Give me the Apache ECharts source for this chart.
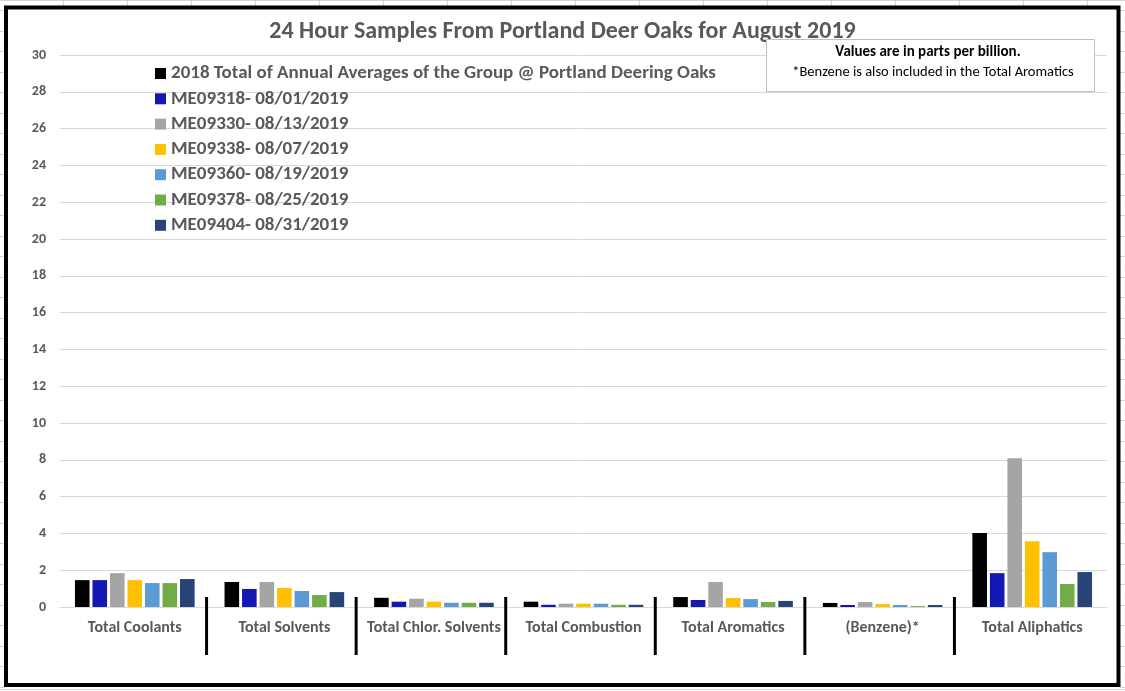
<!DOCTYPE html>
<html>
<head>
<meta charset="utf-8">
<script src="https://cdn.jsdelivr.net/npm/echarts@6/dist/echarts.min.js"></script>
<style>
html,body{margin:0;padding:0;background:#fff;}
#chart{width:1125px;height:691px;}
</style>
</head>
<body>
<div id="chart"></div>
<script>
const categories = ['Total Coolants','Total Solvents','Total Chlor. Solvents','Total Combustion','Total Aromatics','(Benzene)*','Total Aliphatics'];
const seriesNames = ['2018 Total of Annual Averages of the Group @ Portland Deering Oaks','ME09318- 08/01/2019','ME09330- 08/13/2019','ME09338- 08/07/2019','ME09360- 08/19/2019','ME09378- 08/25/2019','ME09404- 08/31/2019'];
const avg2018 = [1.46,1.36,0.50,0.29,0.54,0.22,4.02];
const me09318 = [1.46,0.98,0.29,0.12,0.38,0.11,1.84];
const me09330 = [1.84,1.36,0.45,0.18,1.36,0.27,8.08];
const me09338 = [1.46,1.03,0.29,0.18,0.49,0.16,3.58];
const me09360 = [1.30,0.87,0.23,0.18,0.43,0.11,2.98];
const me09378 = [1.30,0.65,0.23,0.12,0.27,0.05,1.25];
const me09404 = [1.52,0.81,0.23,0.12,0.33,0.11,1.90];
const yTicks = [0,2,4,6,8,10,12,14,16,18,20,22,24,26,28,30];

const colors = ['#000000','#1219B3','#A5A5A5','#FFC000','#5B9BD5','#70AD47','#264478'];
const values = [avg2018,me09318,me09330,me09338,me09360,me09378,me09404];
const FONT = 'Carlito, "Liberation Sans", Arial, sans-serif';

const chart = echarts.init(document.getElementById('chart'));

const option = {
  animation: false,
  backgroundColor: '#ffffff',
  color: colors,
  title: {
    text: '24 Hour Samples From Portland Deer Oaks for August 2019',
    left: 'center', top: 15,
    textStyle: {fontFamily: FONT, fontSize: 24, fontWeight: 'bold', color: '#595959'}
  },
  legend: {
    orient: 'vertical', left: 150, top: 59,
    itemWidth: 11, itemHeight: 11, itemGap: 6.3,
    icon: 'rect',
    data: seriesNames,
    textStyle: {fontFamily: FONT, fontSize: 19, fontWeight: 'bold', color: '#595959', lineHeight: 19}
  },
  grid: {left: 60, right: 18, top: 55, bottom: 84, containLabel: false},
  xAxis: {
    type: 'category', data: categories, boundaryGap: true,
    axisLine: {lineStyle: {color: '#D9D9D9', width: 1}},
    axisTick: {inside: true, length: 5, lineStyle: {color: '#D9D9D9'}},
    axisLabel: {margin: 13, fontFamily: FONT, fontSize: 16, fontWeight: 'bold', color: '#595959', interval: 0}
  },
  yAxis: {
    type: 'value', min: 0, max: 30, interval: 2,
    axisLine: {show: false}, axisTick: {show: false},
    splitLine: {lineStyle: {color: '#D9D9D9', width: 1}},
    axisLabel: {margin: 14, fontFamily: FONT, fontSize: 14, fontWeight: 'bold', color: '#595959',
      formatter: function(v){ return yTicks.indexOf(v) >= 0 ? String(v) : ''; }}
  },
  series: seriesNames.map(function(n, i){
    return {name: n, type: 'bar', data: values[i], barGap: '20%', barCategoryGap: '20%',
      itemStyle: {color: colors[i]}};
  })
};
chart.setOption(option);

// decorative elements: frame, spreadsheet cell lines, note box, black separators
const g = [];
for (let x = 63; x < 1125; x += 64) {
  g.push({type: 'line', shape: {x1: x+0.5, y1: 0, x2: x+0.5, y2: 6}, style: {stroke: '#D4D4D4', lineWidth: 1}, silent: true});
}
g.push({type: 'line', shape: {x1: 0, y1: 0.5, x2: 1125, y2: 0.5}, style: {stroke: '#D4D4D4', lineWidth: 1}, silent: true});
for (let y = 10; y < 691; y += 20.5) {
  g.push({type: 'line', shape: {x1: 0, y1: Math.round(y)+0.5, x2: 5, y2: Math.round(y)+0.5}, style: {stroke: '#D4D4D4', lineWidth: 1}, silent: true});
  g.push({type: 'line', shape: {x1: 1120, y1: Math.round(y)+0.5, x2: 1125, y2: Math.round(y)+0.5}, style: {stroke: '#D4D4D4', lineWidth: 1}, silent: true});
}
g.push({type: 'line', shape: {x1: 0, y1: 689.5, x2: 1125, y2: 689.5}, style: {stroke: '#D4D4D4', lineWidth: 1}, silent: true});
g.push({type: 'rect', shape: {x: 6, y: 7.5, width: 1112.5, height: 677.5}, style: {fill: null, stroke: '#000', lineWidth: 4}, silent: true, z: 100});
g.push({type: 'rect', shape: {x: 766.5, y: 39.5, width: 328, height: 52}, style: {fill: '#fff', stroke: '#BFBFBF', lineWidth: 1}, z: 50});
g.push({type: 'text', x: 928, y: 52.5, style: {text: 'Values are in parts per billion.', fill: '#000', font: 'bold 15px ' + FONT, textAlign: 'center', textVerticalAlign: 'middle'}, z: 51});
g.push({type: 'text', x: 933, y: 72, style: {text: '*Benzene is also included in the Total Aromatics', fill: '#000', font: '14.5px ' + FONT, textAlign: 'center', textVerticalAlign: 'middle'}, z: 51});
const y0 = chart.convertToPixel({yAxisIndex: 0}, 0);
for (let i = 0; i < categories.length - 1; i++) {
  const a = chart.convertToPixel({xAxisIndex: 0}, categories[i]);
  const b = chart.convertToPixel({xAxisIndex: 0}, categories[i+1]);
  const x = (a + b) / 2 - 3;
  g.push({type: 'line', shape: {x1: x, y1: y0 - 10, x2: x, y2: y0 + 48}, style: {stroke: '#000', lineWidth: 3}, silent: true, z: 60});
}
chart.setOption({graphic: g});
</script>
</body>
</html>
